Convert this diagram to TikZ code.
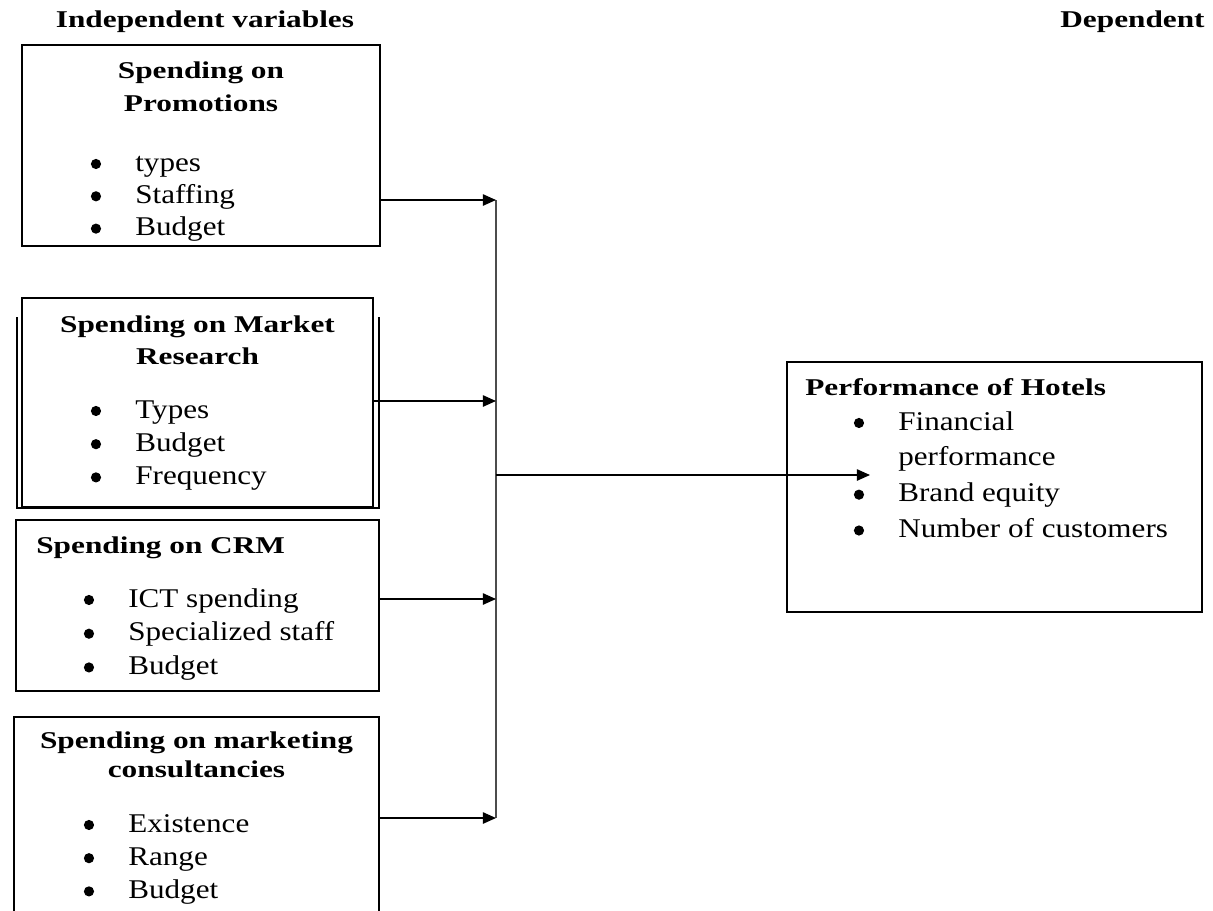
\documentclass[tikz,border=0pt]{standalone}
\usepackage{fontspec}
\setmainfont{Liberation Serif}[FakeStretch=1.15,BoldFeatures={FakeStretch=1.3}]
\usetikzlibrary{%
  arrows.meta,%
  calc,%
  positioning% wg. " of "
}
\newcommand{\itm}{\hspace*{0.9cm}}

\begin{document}
\begin{tikzpicture}[x=0.02cm,y=-0.02cm]
       \tikzset{box/.style={rectangle, draw, line width=1.1pt, inner sep=0pt}}

       \tikzset{head/.style={font=\fontsize{13.7pt}{19pt}\selectfont\bfseries, inner sep=0pt}}

       \tikzset{item/.style={font=\fontsize{15.4pt}{18pt}\selectfont, inner sep=0pt,
                text height=13pt, text depth=4.5pt, anchor=base west}}
       \tikzset{nextitem/.style={item, anchor=north west}}
       \tikzset{dot/.style={path picture={\fill ([shift={(3.2pt,8.5pt)}]path picture bounding box.south west) circle (2.9pt);}}}

       \tikzset{link/.style={-{Triangle[length=7.5pt,width=6.5pt]}, line width=0.85pt}}
       \tikzset{bus/.style={line width=1.3pt, draw=black!70}}

        \useasboundingbox (0,0) rectangle (1213,910);
        \clip (0,0) rectangle (1213,910);

        % headings
        \node[head, anchor=base] (indep) at (205,27) {Independent variables};
        \node[head, anchor=base west] (dep) at (1060,27) {Dependent};

        % boxes
        \node[box, minimum width=7.16cm, minimum height=4.02cm] (promo) at (201,145.5) {};
        \node[box, minimum width=7.02cm, minimum height=4.18cm] (market) at (197.5,402.5) {};
        \node[box, minimum width=7.26cm, minimum height=3.42cm] (crm) at (197.5,605.5) {};
        \node[box, minimum width=7.30cm, minimum height=4.86cm] (cons) at (196.5,838.5) {};
        \node[box, minimum width=8.30cm, minimum height=5.00cm] (hotel) at (994.5,487) {};
        \draw[line width=1.1pt] ($(market.north west)+(-4,20)$) -- ($(market.south west)+(-4,0)$)
              -- ($(market.south east)+(5,0)$) -- ($(market.north east)+(5,20)$);

        % Spending on Promotions
        \node[head, align=center, below=0.34cm of promo.north] (promoT) {Spending on\\Promotions};
        \node[item, dot] (promo1) at (90,171) {\itm types};
        \node[below=0.5pt of promo1.south west, nextitem, dot] (promo2) {\itm Staffing};
        \node[below=0.5pt of promo2.south west, nextitem, dot] (promo3) {\itm Budget};

        % Spending on Market Research
        \node[head, font=\fontsize{13.7pt}{18pt}\selectfont\bfseries, align=center,
              below=0.37cm of market.north] (marketT) {Spending on Market\\Research};
        \node[item, dot] (market1) at (90,418) {\itm Types};
        \node[below=1pt of market1.south west, nextitem, dot] (market2) {\itm Budget};
        \node[below=1pt of market2.south west, nextitem, dot] (market3) {\itm Frequency};

        % Spending on CRM
        \node[head, anchor=base west] (crmT) at (36,553) {Spending on CRM};
        \node[item, dot] (crm1) at (83,607) {\itm ICT spending};
        \node[below=1.3pt of crm1.south west, nextitem, dot] (crm2) {\itm Specialized staff};
        \node[below=1.3pt of crm2.south west, nextitem, dot] (crm3) {\itm Budget};

        % Spending on marketing consultancies
        \node[head, font=\fontsize{13.7pt}{16.5pt}\selectfont\bfseries, align=center,
              below=0.31cm of cons.north] (consT) {Spending on marketing\\consultancies};
        \node[item, dot] (cons1) at (83,832) {\itm Existence};
        \node[below=1pt of cons1.south west, nextitem, dot] (cons2) {\itm Range};
        \node[below=1pt of cons2.south west, nextitem, dot] (cons3) {\itm Budget};

        % Performance of Hotels
        \node[head, anchor=base west] (hotelT) at (805,395) {Performance of Hotels};
        \node[item, dot] (hotel1) at (853,430) {\itm Financial};
        \node[below=2.5pt of hotel1.south west, nextitem] (hotel2) {\itm performance};
        \node[below=2.5pt of hotel2.south west, nextitem, dot] (hotel3) {\itm Brand equity};
        \node[below=2.5pt of hotel3.south west, nextitem, dot] (hotel4) {\itm Number of customers};

        % connectors
        \coordinate (j1) at (496,200);
        \coordinate (j2) at (496,401);
        \coordinate (j3) at (496,599);
        \coordinate (j4) at (496,818);
        \coordinate (jout) at (496,475);
        \coordinate (jend) at (870,475);

        \draw[bus](j1) -- (j4);
        \draw[link](promo.east |- j1) -- (j1);
        \draw[link](market.east |- j2) -- (j2);
        \draw[link](crm.east |- j3) -- (j3);
        \draw[link](cons.east |- j4) -- (j4);
        \draw[link](jout) -- (jend);

\end{tikzpicture}
\end{document}
